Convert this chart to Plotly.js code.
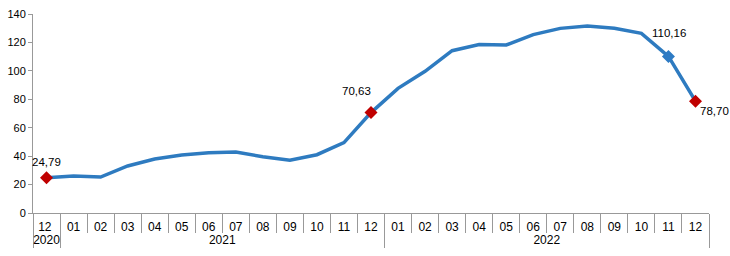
<!DOCTYPE html>
<html><head><meta charset="utf-8">
<script src="https://cdn.plot.ly/plotly-3.0.1.min.js"></script>
<style>body{margin:0;background:#fff}#c{width:730px;height:256px}</style>
</head><body><div id="c"></div>
<script>
const years = ['2020','2021','2021','2021','2021','2021','2021','2021','2021','2021','2021','2021','2021',
  '2022','2022','2022','2022','2022','2022','2022','2022','2022','2022','2022','2022'];
const months = ['12 ','01','02','03','04','05','06','07','08','09','10','11','12',
  '01','02','03','04','05','06','07','08','09','10','11','12'];
const values = [24.79,26.0,25.3,33.1,38.0,40.8,42.4,42.9,39.6,37.1,41.0,49.5,70.63,
  87.7,99.7,114.2,118.6,118.2,125.5,129.9,131.6,129.9,126.4,110.16,78.70];
const markedIdx = [0,12,23,24];
const markedColors = ['#C00000','#C00000','#2E7BC4','#C00000'];
const labelShift = [[0,16],[-15,22],[1,23],[19,-10]];

const fmt = v => v.toFixed(2).replace('.', ',');
const sizes = values.map((v,i)=> markedIdx.includes(i) ? 10 : 0);
const colors = values.map((v,i)=> { const k = markedIdx.indexOf(i); return k>=0 ? markedColors[k] : '#2E7BC4'; });

const trace = {
  type:'scatter', mode:'lines+markers', x:[years, months], y:values,
  line:{color:'#2E7BC0', width:3.5},
  marker:{symbol:'diamond', size:sizes, color:colors, opacity:1, line:{width:0}},
  hoverinfo:'skip', showlegend:false, cliponaxis:false
};
const annotations = markedIdx.map((i,k)=>({
  x:i, y:values[i], xref:'x', yref:'y', text:fmt(values[i]), showarrow:false,
  xshift:labelShift[k][0], yshift:labelShift[k][1],
  font:{family:'Liberation Sans, Arial, sans-serif', size:11.5, color:'#000'}
}));
Plotly.newPlot('c', [trace], {
  width:730, height:256,
  margin:{l:33, r:21, t:14, b:43},
  paper_bgcolor:'#fff', plot_bgcolor:'#fff',
  font:{family:'Liberation Sans, Arial, sans-serif', size:11, color:'#000'},
  annotations:annotations,
  xaxis:{type:'multicategory', range:[-0.5, values.length-0.5],
    tickfont:{size:12},
    showline:true, linecolor:'#999', linewidth:1, ticklabelstandoff:3,
    ticks:'outside', ticklen:19, tickcolor:'#999', showdividers:true, dividercolor:'#999',
    dividerwidth:1, showgrid:false, zeroline:false, tickson:'boundaries'},
  yaxis:{range:[0,140], dtick:20, showline:true, linecolor:'#999', linewidth:1,
    ticks:'outside', ticklen:4, tickcolor:'#999', showgrid:false, zeroline:false},
}, {staticPlot:true});
</script></body></html>
